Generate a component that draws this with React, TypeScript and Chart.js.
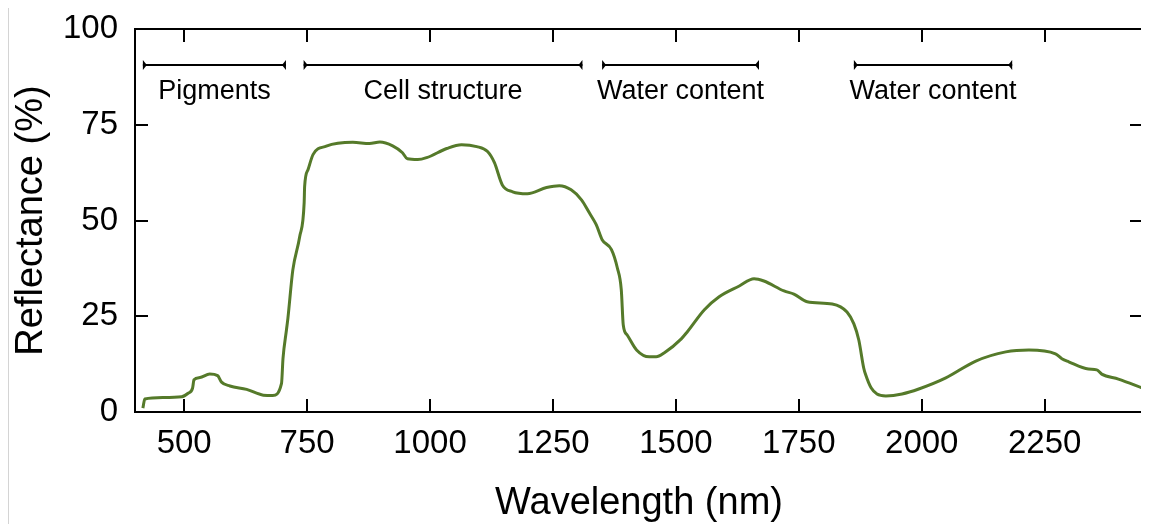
import { useEffect, useRef } from 'react';
import { Chart, registerables } from 'chart.js';

Chart.register(...registerables);

// Leaf reflectance spectrum
const wavelengths = [
  416, 420, 457, 495, 508, 517, 520, 532, 552, 568, 576, 593, 627, 661, 680,
  698, 701, 708, 711, 721, 735, 744, 745, 752, 762, 789, 843, 877, 898, 924,
  944, 954, 975, 993, 1034, 1064, 1095, 1117, 1131, 1147, 1168, 1198, 1237, 1263, 1287,
  1308, 1324, 1338, 1350, 1369, 1381, 1389, 1393, 1401, 1420, 1446, 1460, 1476, 1511, 1523,
  1558, 1588, 1629, 1659, 1679, 1720, 1740, 1767, 1818, 1848, 1862, 1872, 1882, 1886, 1897,
  1909, 1927, 1960, 1994, 2049, 2110, 2171, 2218, 2272, 2285, 2299, 2339, 2356, 2366, 2400,
  2450,
];
const reflectance = [
  1.0, 3.4, 3.8, 4.0, 4.9, 6.2, 8.4, 9.0, 9.9, 9.5, 7.8, 6.8, 5.9, 4.4, 4.3,
  7.5, 14.0, 21.4, 24.5, 37.1, 45.8, 54.6, 58.9, 63.3, 67.2, 69.4, 70.4, 70.1, 70.5, 69.5,
  67.7, 66.1, 65.9, 66.4, 68.8, 69.8, 69.3, 68.0, 65.1, 59.3, 57.5, 57.0, 58.6, 59.1, 58.0,
  55.4, 52.0, 48.9, 45.0, 42.4, 37.6, 31.9, 22.7, 20.1, 16.2, 14.4, 14.4, 15.4, 19.1, 20.9,
  26.7, 30.1, 32.9, 34.8, 34.2, 31.6, 30.8, 28.8, 28.2, 26.1, 23.0, 18.8, 11.5, 9.7, 6.3,
  4.7, 4.2, 4.7, 6.0, 8.9, 13.3, 15.7, 16.2, 15.2, 13.9, 13.1, 11.2, 11.0, 9.9, 8.6,
  6.2,
];

// Axis ticks
const xTickValues = [500, 750, 1000, 1250, 1500, 1750, 2000, 2250];
const yTickValues = [0, 25, 50, 75, 100];

// Spectral regions marked above the curve
const regionNames = ['Pigments', 'Cell structure', 'Water content', 'Water content'];
const regionStart = [416, 743, 1350, 1862];
const regionEnd = [707, 1310, 1669, 2184];

const FONT = '"Liberation Sans", Arial, Helvetica, sans-serif';
const LINE_COLOR = '#557a2a';

const framePlugin = {
  id: 'frameAndRegions',
  afterDraw(chart: any) {
    const { ctx, chartArea: a, scales } = chart;
    const xs = scales.x;
    const ys = scales.y;
    const L = Math.round(a.left);
    const R = Math.round(a.right);
    const T = Math.round(a.top);
    const B = Math.round(a.bottom);
    ctx.save();
    ctx.strokeStyle = '#000';
    ctx.fillStyle = '#000';
    ctx.lineWidth = 2;
    ctx.lineCap = 'butt';
    ctx.strokeRect(L, T, R - L, B - T);

    // inward tick marks on all four sides
    const tick = 13;
    ctx.beginPath();
    for (const v of xTickValues) {
      const px = Math.round(xs.getPixelForValue(v));
      ctx.moveTo(px, B);
      ctx.lineTo(px, B - tick);
      ctx.moveTo(px, T);
      ctx.lineTo(px, T + tick);
    }
    for (const v of yTickValues) {
      if (v === 0 || v === 100) continue;
      const py = Math.round(ys.getPixelForValue(v));
      ctx.moveTo(L, py);
      ctx.lineTo(L + tick, py);
      ctx.moveTo(R, py);
      ctx.lineTo(R - tick, py);
    }
    ctx.stroke();

    // region brackets and labels
    const by = Math.round(ys.getPixelForValue(90.5));
    const ly = ys.getPixelForValue(81.8);
    ctx.font = `27px ${FONT}`;
    ctx.textAlign = 'center';
    ctx.textBaseline = 'alphabetic';
    regionNames.forEach((name, i) => {
      const x0 = xs.getPixelForValue(regionStart[i]);
      const x1 = xs.getPixelForValue(regionEnd[i]);
      ctx.beginPath();
      ctx.moveTo(x0, by);
      ctx.lineTo(x1, by);
      ctx.stroke();
      ctx.beginPath();
      ctx.moveTo(x0, by - 5);
      ctx.lineTo(x0, by + 5);
      ctx.lineTo(x0 + 4, by);
      ctx.closePath();
      ctx.fill();
      ctx.beginPath();
      ctx.moveTo(x1, by - 5);
      ctx.lineTo(x1, by + 5);
      ctx.lineTo(x1 - 4, by);
      ctx.closePath();
      ctx.fill();
      ctx.fillText(name, (x0 + x1) / 2, ly);
    });
    ctx.restore();
  },
};

export default function App() {
  const canvasRef = useRef<HTMLCanvasElement | null>(null);

  useEffect(() => {
    const canvas = canvasRef.current;
    if (!canvas) return;
    const points = wavelengths.map((w, i) => ({ x: w, y: reflectance[i] }));
    const chart = new Chart(canvas, {
      type: 'line',
      data: {
        datasets: [
          {
            data: points,
            borderColor: LINE_COLOR,
            borderWidth: 3,
            pointRadius: 0,
            fill: false,
            cubicInterpolationMode: 'monotone',
          },
        ],
      },
      options: {
        animation: false,
        responsive: false,
        devicePixelRatio: 1,
        layout: { padding: { top: 21, right: 6, bottom: 0, left: 0 } },
        plugins: {
          legend: { display: false },
          tooltip: { enabled: false },
        },
        scales: {
          x: {
            type: 'linear',
            min: 400,
            max: 2450,
            grid: { display: false, drawTicks: false },
            border: { display: false },
            afterBuildTicks: (scale: any) => {
              scale.ticks = xTickValues.map((v) => ({ value: v }));
            },
            afterFit: (scale: any) => {
              scale.height = 112;
              scale.paddingLeft = 0;
              scale.paddingRight = 0;
            },
            ticks: {
              padding: 12,
              color: '#000',
              maxRotation: 0,
              autoSkip: false,
              font: { family: FONT, size: 33 },
              callback: (v: any) => String(v),
            },
            title: {
              display: true,
              text: 'Wavelength (nm)',
              color: '#000',
              font: { family: FONT, size: 38, lineHeight: 1.1 },
              padding: 0,
            },
          },
          y: {
            type: 'linear',
            min: 0,
            max: 100,
            grid: { display: false, drawTicks: false },
            border: { display: false },
            afterBuildTicks: (scale: any) => {
              scale.ticks = yTickValues.map((v) => ({ value: v }));
            },
            afterFit: (scale: any) => {
              scale.width = 126;
              scale.paddingTop = 0;
              scale.paddingBottom = 0;
            },
            ticks: {
              padding: 17,
              color: '#000',
              font: { family: FONT, size: 33 },
              callback: (v: any) => String(v),
            },
            title: {
              display: true,
              text: 'Reflectance (%)',
              color: '#000',
              font: { family: FONT, size: 38, lineHeight: 1.2 },
              padding: 0,
            },
          },
        },
      },
      plugins: [framePlugin],
    });
    return () => chart.destroy();
  }, []);

  return (
    <div
      style={{
        width: 1140,
        height: 516,
        borderLeft: '1px solid #d4d4d4',
        background: '#fff',
      }}
    >
      <canvas ref={canvasRef} width={1140} height={516} style={{ display: 'block' }} />
    </div>
  );
}
